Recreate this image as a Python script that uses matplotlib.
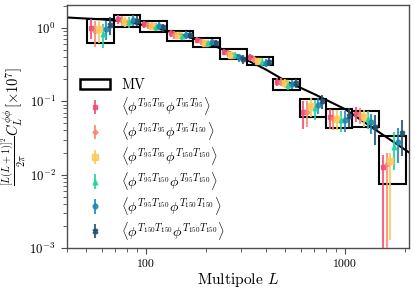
import numpy as np
import matplotlib
matplotlib.use("Agg")
import matplotlib.pyplot as plt
from matplotlib.patches import Rectangle
from matplotlib import ticker

plt.rcParams["font.family"] = "serif"
plt.rcParams["font.serif"] = ["cmr10"]
plt.rcParams["mathtext.fontset"] = "cm"
plt.rcParams["axes.formatter.use_mathtext"] = True

# bin edges in L and the MV band per bin
bin_edges = [50.6, 69.3, 93.6, 127.5, 172.7, 235, 320, 435, 593, 800, 1088, 1480, 2013]
mv_lo = [0.613, 1.03, 0.88, 0.666, 0.552, 0.375, 0.311, 0.142, 0.0615, 0.0428, 0.0442, 0.0074]
mv_hi = [1.31, 1.49, 1.23, 0.90, 0.718, 0.508, 0.40, 0.202, 0.106, 0.0776, 0.0743, 0.034]

# theory curve
theory_L = [40, 60, 80, 100, 150, 200, 300, 400, 500, 700, 1000, 1500, 2100]
theory_C = [1.38, 1.30, 1.21, 1.07, 0.81, 0.63, 0.40, 0.27, 0.19, 0.125, 0.078, 0.037, 0.020]

labels = [
    r"$\langle\phi^{T_{95}T_{95}}\phi^{T_{95}T_{95}}\rangle$",
    r"$\langle\phi^{T_{95}T_{95}}\phi^{T_{95}T_{150}}\rangle$",
    r"$\langle\phi^{T_{95}T_{95}}\phi^{T_{150}T_{150}}\rangle$",
    r"$\langle\phi^{T_{95}T_{150}}\phi^{T_{95}T_{150}}\rangle$",
    r"$\langle\phi^{T_{95}T_{150}}\phi^{T_{150}T_{150}}\rangle$",
    r"$\langle\phi^{T_{150}T_{150}}\phi^{T_{150}T_{150}}\rangle$",
]
colors = ["#ef4d76", "#f78a6a", "#fdc85a", "#22d39e", "#1b87b5", "#22506b"]
markers = ["s", "D", "s", "^", "o", "X"]
msizes = [2.6, 2.6, 4.0, 3.4, 3.4, 3.4]

val_pink   = [1.00, 1.31, 1.12, 0.84, 0.68, 0.47, 0.395, 0.184, 0.072, 0.060, 0.068, 0.0128]
val_salmon = [0.90, 1.25, 1.08, 0.80, 0.65, 0.45, 0.37, 0.184, 0.072, 0.058, 0.065, 0.0140]
val_yellow = [0.95, 1.21, 1.05, 0.79, 0.62, 0.42, 0.35, 0.178, 0.086, 0.058, 0.060, 0.0155]
val_teal   = [0.83, 1.18, 1.03, 0.77, 0.62, 0.42, 0.345, 0.166, 0.080, 0.056, 0.058, 0.024]
val_blue   = [0.96, 1.27, 1.05, 0.80, 0.64, 0.395, 0.335, 0.170, 0.088, 0.056, 0.052, 0.028]
val_navy   = [1.10, 1.25, 1.01, 0.79, 0.62, 0.375, 0.345, 0.178, 0.100, 0.062, 0.045, 0.037]

err_pink   = [0.30, 0.20, 0.13, 0.09, 0.06, 0.05, 0.04, 0.025, 0.030, 0.018, 0.016, 0.006]
err_salmon = [0.35, 0.20, 0.13, 0.09, 0.06, 0.05, 0.04, 0.025, 0.028, 0.018, 0.016, 0.006]
err_yellow = [0.33, 0.20, 0.13, 0.09, 0.06, 0.05, 0.04, 0.025, 0.025, 0.018, 0.016, 0.004]
err_teal   = [0.30, 0.20, 0.13, 0.09, 0.06, 0.05, 0.04, 0.025, 0.025, 0.018, 0.016, 0.014]
err_blue   = [0.28, 0.20, 0.13, 0.09, 0.06, 0.05, 0.04, 0.025, 0.022, 0.018, 0.016, 0.015]
err_navy   = [0.30, 0.20, 0.13, 0.09, 0.06, 0.05, 0.04, 0.025, 0.022, 0.018, 0.020, 0.019]
# lower error in the last bin is larger than the upper one
err_dn_last = [0.020, 0.020, 0.0142, 0.0125, 0.0137, 0.019]

values = [val_pink, val_salmon, val_yellow, val_teal, val_blue, val_navy]
errors = [err_pink, err_salmon, err_yellow, err_teal, err_blue, err_navy]

fig = plt.figure(figsize=(4.15, 2.95), dpi=100)
ax = fig.add_axes([0.161, 0.159, 0.825, 0.824])

edges = np.array(bin_edges)
centers = np.sqrt(edges[:-1] * edges[1:])

ax.plot(theory_L, theory_C, color="k", lw=1.5, zorder=2)

for j in range(len(centers)):
    ax.add_patch(Rectangle((edges[j], mv_lo[j]), edges[j + 1] - edges[j],
                           mv_hi[j] - mv_lo[j], fill=False, ec="k", lw=1.5, zorder=3))

for i in range(6):
    x = centers * 10 ** ((i - 2.5) * 0.019)
    up = np.array(errors[i])
    dn = up.copy()
    dn[-1] = err_dn_last[i]
    ax.errorbar(x, values[i], yerr=[dn, up], fmt=markers[i], color=colors[i],
                ms=msizes[i], elinewidth=1.5, capsize=0, alpha=0.85, zorder=4,
                label=labels[i])

mv_handle = Rectangle((0, 0), 1, 1, fill=False, ec="k", lw=1.8)
handles, labs = ax.get_legend_handles_labels()
ax.legend([mv_handle] + handles, ["MV"] + labs, loc="upper left",
          bbox_to_anchor=(0.0, 0.75), frameon=False, fontsize=10.3,
          handlelength=2.1, labelspacing=0.2, borderaxespad=0.5,
          handletextpad=0.8)

ax.set_xscale("log")
ax.set_yscale("log")
ax.set_xlim(40, 2100)
ax.set_ylim(1e-3, 2.04)
ax.xaxis.set_major_formatter(ticker.FuncFormatter(lambda v, _: f"{v:g}"))
ax.xaxis.set_minor_formatter(ticker.NullFormatter())

for s in ax.spines.values():
    s.set_color("0.3")
    s.set_linewidth(1.0)
ax.tick_params(which="major", length=4.5, color="0.3")
ax.tick_params(which="minor", length=2.6, color="0.3")
ax.tick_params(axis="x", labelsize=8.5)
ax.tick_params(axis="y", labelsize=9.2)

ax.set_xlabel(r"Multipole $L$", fontsize=11.2, labelpad=2)
ax.set_ylabel(r"$\frac{[L(L+1)]^2}{2\pi}C_L^{\phi\phi}\,[\times 10^7]$", fontsize=10.5, labelpad=0)

fig.savefig("out.png", dpi=100)
